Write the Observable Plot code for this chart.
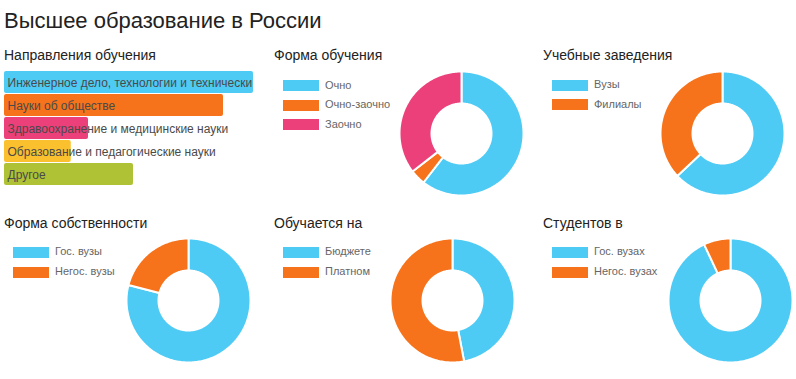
<!DOCTYPE html>
<html><head><meta charset="utf-8">
<script src="https://cdn.jsdelivr.net/npm/d3@7"></script>
<script src="https://cdn.jsdelivr.net/npm/@observablehq/plot@0.6"></script>
<style>
body{margin:0;background:#fff;font-family:"Liberation Sans",Arial,sans-serif;}
#root{position:relative;width:796px;height:379px;overflow:hidden;background:#fff}
.abs{position:absolute}
#title{left:4px;top:10px;font-size:22px;line-height:22px;color:#222;white-space:nowrap}
.ptitle{position:absolute;font-size:14px;line-height:14px;color:#222;white-space:nowrap}
.legtxt{position:absolute;font-size:11px;line-height:11px;color:#666;white-space:nowrap}
.sw{position:absolute;width:36px;height:11px}
</style>
</head><body>
<div id="root"><div id="title" class="abs">Высшее образование в России</div></div>
<script>
// ---- data ----
const dirLabels = ["Инженерное дело, технологии и технически","Науки об обществе","Здравоохранение и медицинские науки","Образование и педагогические науки","Другое"];
const dirValues = [33.2, 29.2, 11.2, 8.9, 17.2];
const dirColors = ["#4ecbf5","#f6731c","#ec407a","#fbc02d","#afc236"];

const formTitle = "Форма обучения";
const formLabels = ["Очно","Очно-заочно","Заочно"];
const formValues = [60.5, 4, 35.5];

const instTitle = "Учебные заведения";
const instLabels = ["Вузы","Филиалы"];
const instValues = [63, 37];

const ownTitle = "Форма собственности";
const ownLabels = ["Гос. вузы","Негос. вузы"];
const ownValues = [79, 21];

const payTitle = "Обучается на";
const payLabels = ["Бюджете","Платном"];
const payValues = [47, 53];

const studTitle = "Студентов в";
const studLabels = ["Гос. вузах","Негос. вузах"];
const studValues = [93, 7];

const pieColors = ["#4ecbf5","#f6731c","#ec407a"];
const FONT = "'Liberation Sans', Arial, sans-serif";

// ---- layout helpers ----
const root = document.getElementById("root");
function place(node, left, top){node.style.position="absolute";node.style.left=left+"px";node.style.top=top+"px";root.appendChild(node);return node;}
function ptitle(text, left, baseline){const d=document.createElement("div");d.className="ptitle";d.textContent=text;place(d,left,baseline-11.9);}
function legend(labels, colors, swLeft, tops){
  labels.forEach((l,i)=>{
    const s=document.createElement("div");s.className="sw";s.style.background=colors[i];place(s,swLeft,tops[i]);
    const t=document.createElement("div");t.className="legtxt";t.textContent=l;place(t,swLeft+42,tops[i]-0.3);
  });
}
function donut(labels, values, cx, cy){
  const R=62, r=30, S=2*R+4;
  const arcs=d3.pie().sort(null).value(d=>d.v)(labels.map((l,i)=>({l,v:values[i]})));
  const pts=[];
  for(const a of arcs){
    const n=Math.max(2,Math.ceil((a.endAngle-a.startAngle)/0.02));
    const ring=[];
    for(let k=0;k<=n;k++){const t=a.startAngle+(a.endAngle-a.startAngle)*k/n;ring.push([R*Math.sin(t),R*Math.cos(t)]);}
    for(let k=n;k>=0;k--){const t=a.startAngle+(a.endAngle-a.startAngle)*k/n;ring.push([r*Math.sin(t),r*Math.cos(t)]);}
    ring.push(ring[0]);
    ring.forEach(([x,y])=>pts.push({key:a.data.l,x,y}));
  }
  const svg=Plot.plot({
    width:S,height:S,margin:0,style:{fontFamily:FONT,background:"transparent"},
    x:{domain:[-S/2,S/2],axis:null},
    y:{domain:[-S/2,S/2],axis:null},
    color:{domain:labels,range:pieColors.slice(0,labels.length)},
    marks:[Plot.line(pts,{x:"x",y:"y",z:"key",fill:"key",stroke:"white",strokeWidth:2,curve:"linear"})]
  });
  place(svg,cx-S/2,cy-S/2);
}

// ---- panel 1: bars ----
ptitle("Направления обучения",4,60);
const rows=dirLabels.map((l,i)=>({l,v:dirValues[i]}));
const bars=Plot.plot({
  width:249,height:115,margin:0,style:{fontFamily:FONT,background:"transparent",overflow:"hidden"},
  x:{domain:[0,33.2],range:[0,249],axis:null},
  y:{domain:dirLabels,axis:null,padding:0},
  color:{domain:dirLabels,range:dirColors},
  marks:[
    Plot.barX(rows,{x:"v",y:"l",fill:"l",insetBottom:1,rx:2}),
    Plot.text(rows,{x:0,y:"l",text:"l",textAnchor:"start",dx:3,fontSize:12,fill:"#4a4a4a"})
  ]
});
place(bars,4,71);

// ---- panel 2 ----
ptitle(formTitle,274,60);
legend(formLabels,pieColors,283,[80,99.7,119.4]);
donut(formLabels,formValues,461,132.5);

// ---- panel 3 ----
ptitle(instTitle,543,60);
legend(instLabels,pieColors,552,[79.5,99.3]);
donut(instLabels,instValues,722,133);

// ---- panel 4 ----
ptitle(ownTitle,4,228.3);
legend(ownLabels,pieColors,13,[246.7,266.7]);
donut(ownLabels,ownValues,187.5,299.5);

// ---- panel 5 ----
ptitle(payTitle,274,228.3);
legend(payLabels,pieColors,283,[246.7,266.7]);
donut(payLabels,payValues,451.5,300);

// ---- panel 6 ----
ptitle(studTitle,543,228.3);
legend(studLabels,pieColors,552,[246.7,266.7]);
donut(studLabels,studValues,730,300);
</script>
</body></html>
